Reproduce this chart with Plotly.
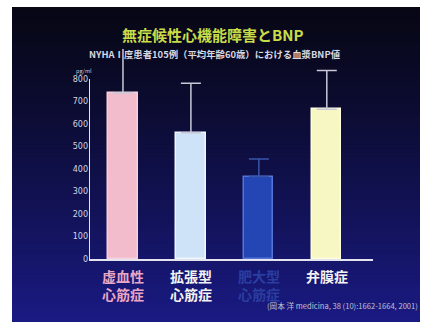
import plotly.graph_objects as go

# Mean plasma BNP (pg/ml) by underlying disease, with upper SD
categories = ["虚血性<br>心筋症", "拡張型<br>心筋症", "肥大型<br>心筋症", "弁膜症"]
bnp_mean = [738, 561, 366, 665]
bnp_sd = [240, 220, 78, 172]
y_ticks = [0, 100, 200, 300, 400, 500, 600, 700, 800]

bar_fill = ["#f2bccd", "#cfe3f8", "#2445b4", "#f7f7c4"]
bar_edge = ["#f6d0dc", "#eef6ff", "#5474d8", "#fdfde0"]
err_color = ["#c8c8d8", "#c8c8d8", "#3a56a8", "#c8c8d8"]
label_color = ["#eaa6c4", "#f2f2f2", "#2a3ea0", "#f4f4f4"]

W, H = 423, 322
L, R, T, B = 89, 50, 49, 63
plot_w = W - L - R
plot_h = H - T - B

fig = go.Figure()

for i, cat in enumerate(categories):
    fig.add_trace(go.Bar(
        x=[i], y=[bnp_mean[i]], width=0.43,
        marker=dict(color=bar_fill[i], line=dict(color=bar_edge[i], width=1.5)),
        error_y=dict(type="data", array=[bnp_sd[i]], symmetric=False, arrayminus=[0],
                     color=err_color[i], thickness=1.5, width=10),
        showlegend=False, hoverinfo="skip",
    ))

# dark navy gradient panel behind the chart
def px_x(px):
    return (px - L) / plot_w

def px_y(py):
    return (H - B - py) / plot_h

top_rgb = (7, 7, 22)
bot_rgb = (26, 26, 132)
shapes = []
n = 80
y0, y1 = 7, 322
for k in range(n):
    a = y0 + (y1 - y0) * k / n
    b = y0 + (y1 - y0) * (k + 1) / n
    t = (k + 0.5) / n
    t = t ** 1.2
    c = tuple(int(round(top_rgb[j] + (bot_rgb[j] - top_rgb[j]) * t)) for j in range(3))
    # each band reaches 3 px below its neighbour so no seams show
    bottom = min(b + 3, y1)
    shapes.append(dict(type="rect", xref="paper", yref="paper", layer="below",
                       x0=px_x(12), x1=px_x(420), y0=px_y(bottom), y1=px_y(a),
                       fillcolor="rgb(%d,%d,%d)" % c, line=dict(width=0)))

# vertical axis line only up to 800
shapes.append(dict(type="line", xref="x", yref="y", x0=-0.5, x1=-0.5, y0=0, y1=800,
                   line=dict(color="#e4e4f0", width=2)))

annotations = []
for i, cat in enumerate(categories):
    annotations.append(dict(x=i, xref="x", y=px_y(264), yref="paper", yanchor="top",
                            text="<b>%s</b>" % cat, showarrow=False, align="left",
                            font=dict(size=14, color=label_color[i],
                                      family="Noto Sans CJK JP")))

annotations += [
    dict(x=px_x(212), xref="paper", y=px_y(22), yref="paper", text="<b>無症候性心機能障害とBNP</b>",
         showarrow=False, font=dict(size=15, color="#c8dc48", family="Noto Sans CJK JP")),
    dict(x=px_x(215), xref="paper", y=px_y(45), yref="paper",
         text="<b>NYHAⅠ度患者105例（平均年齢60歳）における血漿BNP値</b>",
         showarrow=False, font=dict(size=9.4, color="#d8d8e0", family="Noto Sans CJK JP")),
    dict(x=px_x(74), xref="paper", y=px_y(65), yref="paper", text="pg/ml",
         showarrow=False, font=dict(size=5.5, color="#c8c8d8", family="Noto Sans CJK JP")),
    dict(x=px_x(420), xref="paper", xanchor="right", y=px_y(313), yref="paper",
         text="(岡本 洋 medicina, 38 (10):1662-1664, 2001)",
         showarrow=False, font=dict(size=7.6, color="#c0c0d0", family="Noto Sans CJK JP")),
]

fig.update_layout(
    width=W, height=H,
    margin=dict(l=L, r=R, t=T, b=B, pad=0),
    paper_bgcolor="white", plot_bgcolor="rgba(0,0,0,0)",
    barmode="overlay", bargap=0,
    shapes=shapes, annotations=annotations,
    xaxis=dict(range=[-0.5, 3.68], showticklabels=False, ticks="", showgrid=False,
               zeroline=False, showline=True, linecolor="#e4e4f0", linewidth=2),
    yaxis=dict(range=[0, 933], tickvals=y_ticks, showgrid=False, zeroline=False,
               showline=False, ticks="",
               tickfont=dict(size=8, color="#d4d4e0", family="DejaVu Sans")),
    font=dict(family="Noto Sans CJK JP"),
)

fig.write_html("out.html")
